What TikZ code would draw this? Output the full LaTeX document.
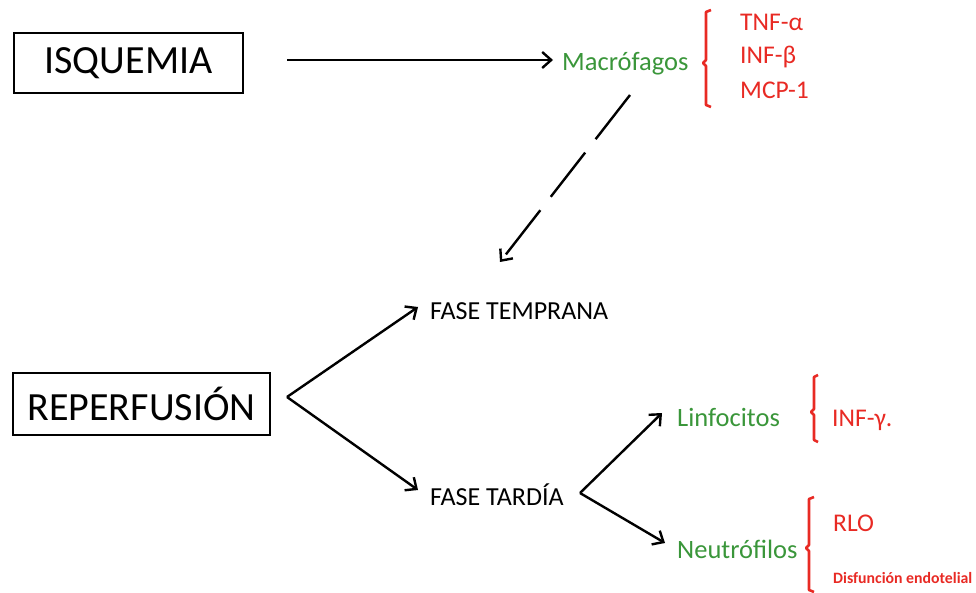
\documentclass[tikz,border=0pt]{standalone}
\usepackage{fontspec}
\setmainfont{Carlito}
\usetikzlibrary{arrows.meta}
\definecolor{cellgreen}{RGB}{58,150,58}
\definecolor{medred}{RGB}{232,42,36}
\tikzset{
  x=1pt, y=-1pt,
  mainbox/.style={draw, line width=2.2pt, inner sep=0pt, font=\fontsize{40}{40}\selectfont},
  phase/.style={anchor=west, inner sep=0pt, font=\fontsize{26}{26}\selectfont},
  cell/.style={anchor=west, inner sep=0pt, text=cellgreen, font=\fontsize{26.5}{26.5}\selectfont},
  factor/.style={anchor=west, inner sep=0pt, text=medred, font=\fontsize{25.5}{25.5}\selectfont},
  smallfactor/.style={anchor=west, inner sep=0pt, text=medred, font=\fontsize{15.8}{15.8}\selectfont\bfseries},
  link/.style={line width=2.4pt, -{Straight Barb[length=9pt,width=16pt,line width=2.4pt]}},
  brack/.style={draw=medred, line width=2.6pt, line join=round}
}
\begin{document}
\begin{tikzpicture}
\useasboundingbox (0,0) rectangle (976,593);

% main boxes
\node[mainbox, minimum width=229pt, minimum height=60pt] (isq) at (128.5,63) {ISQUEMIA};
\node[mainbox, minimum width=257pt, minimum height=62pt] (rep) at (141.5,404) {REPERFUSIÓN};

% phases and cells
\node[phase] (temp) at (430,311) {FASE TEMPRANA};
\node[phase] (tard) at (430,495) {FASE TARDÍA};
\node[cell] (macro) at (562,64) {Macrófagos};
\node[cell] (linfo) at (677,417) {Linfocitos};
\node[cell] (neutro) at (677,549) {Neutrófilos};

% mediators
\node[factor] (tnf) at (740,22) {TNF-α};
\node[factor] (infb) at (740,57) {INF-β};
\node[factor] (mcp) at (740,90) {MCP-1};
\node[factor] (infg) at (832,420) {INF-γ.};
\node[factor] (rlo) at (833,523) {RLO};
\node[smallfactor] (disf) at (833,578) {Disfunción endotelial};

% connector end points
\coordinate (isqR) at (287,60);
\coordinate (macroL) at (553,60);
\coordinate (dashS) at (630,95);
\coordinate (dashE) at (500,262);
\coordinate (repR) at (287,397);
\coordinate (tempL) at (418,307);
\coordinate (tardL) at (418,490);
\coordinate (tardR) at (580,493);
\coordinate (linfoL) at (662,413);
\coordinate (neutroL) at (665,543);

\draw[link] (isqR) -- (macroL);
\draw[link, dash pattern=on 56pt off 17pt] (dashS) -- (dashE);
\draw[link] (repR) -- (tempL);
\draw[link] (repR) -- (tardL);
\draw[link] (tardR) -- (linfoL);
\draw[link] (tardR) -- (neutroL);

% brackets
\draw[brack] (711,10) -- (706,12) -- (706,60) -- (703,63) -- (706,66) -- (706,105) -- (711,107);
\draw[brack] (818,375) -- (814,377) -- (814,409) -- (811,412) -- (814,415) -- (814,440) -- (818,442);
\draw[brack] (814,497) -- (809,499) -- (809,545) -- (806,548) -- (809,551) -- (809,590) -- (814,592);
\end{tikzpicture}
\end{document}
